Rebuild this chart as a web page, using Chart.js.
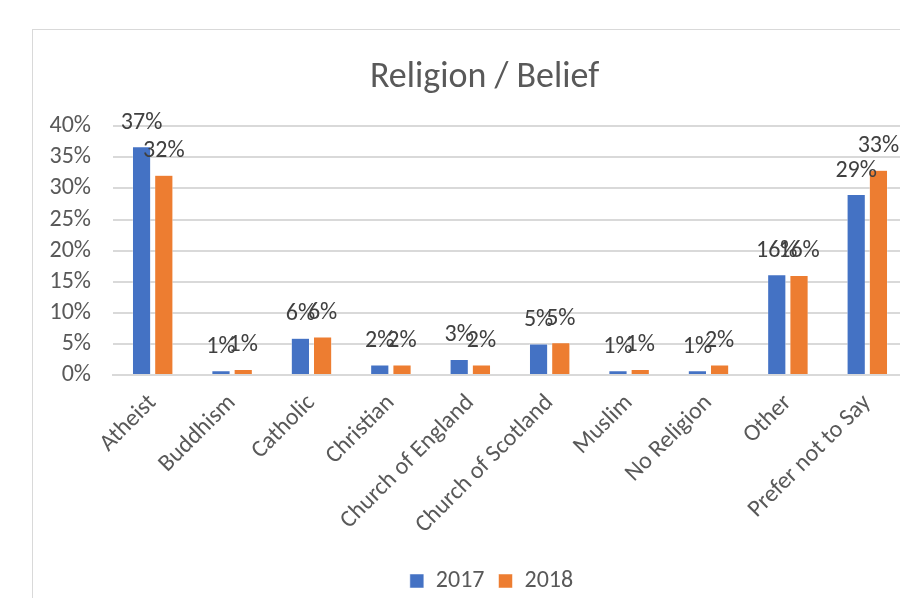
<!DOCTYPE html>
<html>
<head>
<meta charset="utf-8">
<script src="https://cdn.jsdelivr.net/npm/chart.js@4"></script>
<style>
  html, body { margin: 0; padding: 0; background: #fff; overflow: hidden; }
  #wrap { position: absolute; left: 0; top: 0; width: 907px; height: 598px; }
  #frame { position: absolute; left: 32px; top: 29px; width: 900px; height: 600px;
           border-left: 1px solid #d9d9d9; border-top: 1px solid #d9d9d9; }
</style>
</head>
<body>
<div id="frame"></div>
<div id="wrap"><canvas id="religionChart"></canvas></div>
<script>
// Data
const categories = ['Atheist', 'Buddhism', 'Catholic', 'Christian', 'Church of England',
    'Church of Scotland', 'Muslim', 'No Religion', 'Other', 'Prefer not to Say'];
const values2017 = [36.7, 0.7, 5.9, 1.6, 2.5, 5.0, 0.7, 0.7, 16.1, 29.0];
const values2018 = [32.1, 0.9, 6.1, 1.6, 1.6, 5.2, 0.9, 1.6, 16.0, 32.9];
const yTicks = [0, 5, 10, 15, 20, 25, 30, 35, 40];

const fontFamily = 'Carlito, Lato, "Open Sans", sans-serif';

// Data labels above each bar
const barLabels = {
    id: 'barLabels',
    afterDatasetsDraw(chart) {
        const ctx = chart.ctx;
        ctx.save();
        ctx.font = '24px ' + fontFamily;
        ctx.fillStyle = '#404040';
        ctx.textAlign = 'center';
        ctx.textBaseline = 'alphabetic';
        chart.data.datasets.forEach((ds, i) => {
            chart.getDatasetMeta(i).data.forEach((bar, j) => {
                ctx.fillText(Math.round(ds.data[j]) + '%', bar.x, bar.y - 18);
            });
        });
        ctx.restore();
    }
};

// The original chart box is wider than the window, so title and legend sit right of centre
const shiftBlocks = {
    id: 'shiftBlocks',
    afterLayout(chart) {
        if (chart.titleBlock) {
            chart.titleBlock.left += 31;
            chart.titleBlock.right += 31;
            chart.titleBlock.top += 3;
            chart.titleBlock.bottom += 3;
        }
        if (chart.legend) {
            chart.legend.left += 38;
            chart.legend.right += 38;
            chart.legend.top += 5;
            chart.legend.bottom += 5;
        }
    }
};

Chart.defaults.font.family = fontFamily;
Chart.defaults.color = '#595959';

new Chart(document.getElementById('religionChart'), {
    type: 'bar',
    data: {
        labels: categories,
        datasets: [
            {
                label: '2017',
                data: values2017,
                backgroundColor: '#4472C4',
                borderColor: '#ffffff',
                borderWidth: 0.5,
                barPercentage: 0.82,
                categoryPercentage: 0.56
            },
            {
                label: '2018',
                data: values2018,
                backgroundColor: '#ED7D31',
                borderColor: '#ffffff',
                borderWidth: 0.5,
                barPercentage: 0.82,
                categoryPercentage: 0.56
            }
        ]
    },
    options: {
        responsive: true,
        maintainAspectRatio: false,
        animation: false,
        layout: {
            padding: { left: 0, top: 30, right: 0, bottom: 0 }
        },
        plugins: {
            title: {
                display: true,
                text: 'Religion / Belief',
                color: '#595959',
                font: { size: 36, weight: 'normal' },
                padding: { top: 23, bottom: 30 }
            },
            legend: {
                position: 'bottom',
                labels: {
                    boxWidth: 14,
                    boxHeight: 14,
                    padding: 14,
                    font: { size: 24 },
                    color: '#595959'
                }
            },
            tooltip: { enabled: false }
        },
        scales: {
            x: {
                grid: { display: false, drawTicks: false },
                border: { color: '#d9d9d9', width: 2 },
                afterFit: function(scale) {
                    scale.height = 175;
                },
                ticks: {
                    minRotation: 45,
                    maxRotation: 45,
                    autoSkip: false,
                    padding: 14,
                    font: { size: 24 },
                    color: '#595959'
                }
            },
            y: {
                min: 0,
                max: 40,
                afterBuildTicks: function(scale) {
                    scale.ticks = yTicks.map(v => ({ value: v }));
                },
                afterFit: function(scale) {
                    scale.width = 113;
                },
                grid: { color: '#d9d9d9', lineWidth: 2, drawTicks: false },
                border: { display: false },
                ticks: {
                    autoSkip: false,
                    padding: 22,
                    font: { size: 24 },
                    color: '#595959',
                    callback: function(value) {
                        return value + '%';
                    }
                }
            }
        }
    },
    plugins: [barLabels, shiftBlocks]
});
</script>
</body>
</html>
